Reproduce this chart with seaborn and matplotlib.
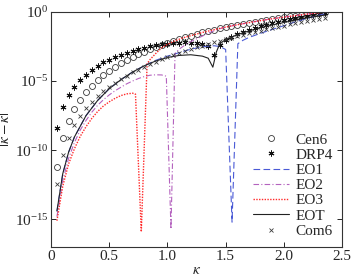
import matplotlib
matplotlib.use("Agg")
import matplotlib.pyplot as plt
import numpy as np
import seaborn as sns

# kappa grid of the marker series
kappa = [0.05, 0.10, 0.15, 0.20, 0.25, 0.30, 0.35, 0.40, 0.45, 0.50,
         0.55, 0.60, 0.65, 0.70, 0.75, 0.80, 0.85, 0.90, 0.95, 1.00,
         1.05, 1.10, 1.15, 1.20, 1.25, 1.30, 1.35, 1.40, 1.45, 1.50,
         1.55, 1.60, 1.65, 1.70, 1.75, 1.80, 1.85, 1.90, 1.95, 2.00,
         2.05, 2.10, 2.15, 2.20, 2.25, 2.30, 2.35]

# log10 |k~ - k|
cen6 = [-11.25, -9.15, -7.92, -7.04, -6.37, -5.81, -5.35, -4.95, -4.59, -4.27,
        -3.99, -3.73, -3.49, -3.27, -3.07, -2.88, -2.70, -2.53, -2.38, -2.23,
        -2.09, -1.96, -1.83, -1.71, -1.60, -1.49, -1.39, -1.29, -1.19, -1.10,
        -1.02, -0.93, -0.85, -0.78, -0.70, -0.63, -0.57, -0.50, -0.44, -0.38,
        -0.32, -0.27, -0.21, -0.16, -0.11, -0.06, -0.02]
drp4 = [-8.40, -6.90, -6.00, -5.40, -4.95, -4.55, -4.20, -3.90, -3.65, -3.45,
        -3.25, -3.10, -2.95, -2.82, -2.70, -2.60, -2.50, -2.42, -2.35, -2.29,
        -2.25, -2.22, -2.21, -2.22, -2.26, -2.33, -2.50, -3.10, -2.40, -2.05,
        -1.80, -1.62, -1.47, -1.34, -1.17, -1.05, -0.93, -0.82, -0.72, -0.62,
        -0.53, -0.44, -0.36, -0.28, -0.20, -0.12, -0.05]
com6 = [-12.43, -10.32, -9.09, -8.21, -7.53, -6.98, -6.51, -6.10, -5.74, -5.42,
        -5.12, -4.86, -4.61, -4.38, -4.17, -3.97, -3.78, -3.60, -3.43, -3.27,
        -3.12, -2.97, -2.83, -2.69, -2.56, -2.44, -2.31, -2.20, -2.08, -1.97,
        -1.86, -1.76, -1.65, -1.55, -1.46, -1.36, -1.27, -1.17, -1.09, -1.00,
        -0.91, -0.83, -0.74, -0.66, -0.58, -0.51, -0.43]

k_eo1 = [0.05, 0.10, 0.15, 0.20, 0.30, 0.40, 0.50, 0.60, 0.70, 0.80, 0.90,
         1.00, 1.10, 1.20, 1.30, 1.40, 1.45, 1.50, 1.555, 1.605, 1.65, 1.70,
         1.80, 1.90, 2.00, 2.10, 2.20, 2.30, 2.35]
eo1 = [-14.40, -11.70, -10.15, -9.05, -7.50, -6.40, -5.55, -4.90, -4.35, -3.90, -3.50,
       -3.20, -2.95, -2.70, -2.52, -2.45, -2.50, -2.72, -15.20, -2.30, -2.05, -1.85,
       -1.55, -1.27, -1.00, -0.72, -0.47, -0.25, -0.15]

k_eo2 = [0.05, 0.10, 0.15, 0.20, 0.25, 0.30, 0.35, 0.40, 0.45, 0.50, 0.55, 0.60,
         0.65, 0.70, 0.75, 0.80, 0.85, 0.90, 0.95, 0.99, 1.03, 1.065, 1.10, 1.15,
         1.20, 1.25, 1.30, 1.35, 1.40, 1.45, 1.50, 1.60, 1.70, 1.80, 1.90, 2.00,
         2.10, 2.20, 2.30, 2.35]
eo2 = [-14.80, -12.20, -10.60, -9.45, -8.55, -7.85, -7.25, -6.75, -6.35, -6.00, -5.70, -5.45,
       -5.20, -5.00, -4.82, -4.68, -4.58, -4.55, -4.56, -4.65, -15.70, -3.00, -2.70, -2.40,
       -2.15, -1.95, -1.75, -1.55, -1.37, -1.22, -1.10, -0.93, -0.78, -0.63, -0.50, -0.38,
       -0.27, -0.16, -0.06, -0.02]

k_eo3 = [0.05, 0.10, 0.15, 0.20, 0.25, 0.30, 0.35, 0.40, 0.45, 0.50, 0.55, 0.60,
         0.65, 0.70, 0.725, 0.775, 0.825, 0.85, 0.90, 0.95, 1.00, 1.05, 1.10, 1.15,
         1.20, 1.30, 1.40, 1.50, 1.60, 1.70, 1.80, 1.90, 2.00, 2.10, 2.20, 2.30, 2.35]
eo3 = [-15.10, -12.60, -11.00, -9.90, -9.00, -8.30, -7.70, -7.20, -6.80, -6.50, -6.25, -6.05,
       -5.93, -5.88, -5.95, -15.90, -3.75, -3.45, -3.00, -2.60, -2.35, -2.15, -1.98, -1.84,
       -1.72, -1.49, -1.29, -1.10, -0.93, -0.78, -0.63, -0.50, -0.38, -0.27, -0.16, -0.06, -0.02]

k_eot = [0.05, 0.10, 0.15, 0.20, 0.30, 0.40, 0.50, 0.60, 0.70, 0.80, 0.90,
         1.00, 1.10, 1.20, 1.30, 1.35, 1.39, 1.42, 1.45, 1.50, 1.60, 1.70,
         1.80, 1.90, 2.00, 2.10, 2.20, 2.30, 2.35]
eot = [-14.40, -11.70, -10.15, -9.05, -7.50, -6.40, -5.55, -4.90, -4.35, -3.90, -3.55,
       -3.30, -3.15, -3.10, -3.20, -3.35, -4.00, -2.90, -2.30, -2.00, -1.65, -1.38,
       -1.15, -0.95, -0.77, -0.60, -0.44, -0.30, -0.23]

sns.set_theme(style="ticks")
plt.rcParams["font.family"] = ["Liberation Serif", "DejaVu Serif"]
plt.rcParams["mathtext.fontset"] = "stix"

fig = plt.figure(figsize=(3.6, 2.76), dpi=100)
ax = fig.add_axes([0.142, 0.105, 0.808, 0.852])

mk = "#3a3a3a"
sns.lineplot(x=kappa, y=10.0 ** np.array(cen6), ax=ax, ls="", marker="o", ms=4.3,
             mfc="none", mec=mk, mew=0.6, label="Cen6")
sns.lineplot(x=kappa, y=10.0 ** np.array(drp4), ax=ax, ls="", marker=(6, 2, 0), ms=4.2,
             mfc="#111111", mec="#111111", mew=0.7, label="DRP4")
sns.lineplot(x=k_eo1, y=10.0 ** np.array(eo1), ax=ax, color="#4a5ad6", lw=0.8,
             dashes=(6, 3), label="EO1")
sns.lineplot(x=k_eo2, y=10.0 ** np.array(eo2), ax=ax, color="#b462be", lw=0.8,
             dashes=(5, 2, 1, 2), label="EO2")
sns.lineplot(x=k_eo3, y=10.0 ** np.array(eo3), ax=ax, color="#ff2a2a", lw=1.0,
             dashes=(1, 1), label="EO3")
sns.lineplot(x=k_eot, y=10.0 ** np.array(eot), ax=ax, color="#222222", lw=0.8,
             label="EOT")
sns.lineplot(x=kappa, y=10.0 ** np.array(com6), ax=ax, ls="", marker="x", ms=3.5,
             mec=mk, mew=0.6, label="Com6")

ax.set_yscale("log")
ax.set_xlim(0, 2.5)
ax.set_ylim(1e-17, 1)
ax.set_xticks([0, 0.5, 1.0, 1.5, 2.0, 2.5])
ax.set_xticklabels(["0", "0.5", "1.0", "1.5", "2.0", "2.5"])
ax.set_yticks([1e-15, 1e-10, 1e-5, 1])
ax.yaxis.set_minor_locator(matplotlib.ticker.NullLocator())
ax.tick_params(which="both", direction="in", top=True, right=True, length=3.5,
               width=0.7, labelsize=11, pad=2)
for s in ax.spines.values():
    s.set_linewidth(0.8)
    s.set_color("#333333")

ax.set_xlabel(r"$\kappa$", fontsize=11, labelpad=1)
ax.set_ylabel(r"$|\tilde{\kappa}-\kappa|$", fontsize=11, labelpad=1)

ax.legend(loc="lower right", frameon=False, fontsize=11, handlelength=2.4,
          handletextpad=0.4, labelspacing=0.1, borderaxespad=0.2)

fig.savefig("out.png", dpi=100)
